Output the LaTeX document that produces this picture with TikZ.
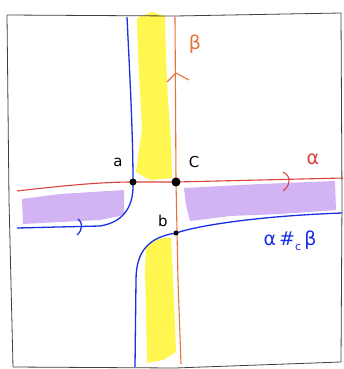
\documentclass[tikz,border=0pt]{standalone}
\usepackage{fontspec}
\setmainfont{DejaVu Sans}
\begin{document}
\begin{tikzpicture}[x=1pt,y=-1pt,
  dotnode/.style={circle,fill=black,inner sep=0pt,minimum size=#1},
  lbl/.style={font=\fontsize{15}{15}\selectfont},
  glbl/.style={font=\fontsize{19}{19}\selectfont},
  redc/.style={draw=alphared,line width=1.1pt},
  orc/.style={draw=betaorange,line width=1.1pt},
  bluc/.style={draw=curveblue,line width=1.3pt},
  ]
\definecolor{alphared}{HTML}{D8433F}
\definecolor{betaorange}{HTML}{E8733A}
\definecolor{curveblue}{HTML}{1A2FE6}
\definecolor{hlyellow}{HTML}{FFF64F}
\definecolor{hlpurple}{HTML}{D2B3F3}
\useasboundingbox (0,0) rectangle (343,369);
\fill[white] (0,0) rectangle (343,369);
% highlights
\fill[hlyellow] (137,18) -- (152,12) -- (165,16) -- (166,60) -- (168,100) -- (171,140) -- (172,178) -- (150,180) -- (136,172) -- (139,150) -- (142,130) -- (140,90) -- (138,55) -- cycle;
\fill[hlyellow] (146,248) .. controls (152,240) and (160,237) .. (171,238) -- (174,300) -- (176,352) -- (163,360) -- (147,363) -- (146,310) -- (145,270) -- cycle;
\fill[hlpurple] (22,199) -- (60,194) -- (124,190) -- (124,215) -- (100,220) -- (60,222) -- (23,224) -- cycle;
\fill[hlpurple] (184,188) -- (260,184) -- (335,181) -- (336,210) -- (280,214) -- (230,216) -- (190,221) -- (186,205) -- cycle;
% frame
\draw[black!75,line width=0.8pt] (7,15) -- (175,16) -- (341,13);
\draw[black!75,line width=0.8pt] (7,15) -- (9,200) -- (13,367);
\draw[black!75,line width=0.8pt] (13,367) -- (175,368) -- (341,362);
\draw[black!75,line width=0.8pt] (341,13) -- (342,200) -- (341,362);
% points
\coordinate (ptop) at (127,17);
\coordinate (bleft) at (17,228);
\coordinate (bbot) at (135,367);
\coordinate (bright) at (342,213);
\coordinate (rleft) at (17,191);
\coordinate (rright) at (343,178);
\coordinate (otop) at (175,17);
\coordinate (obot) at (181,364);
% beta
\draw[orc] (otop) -- (176,182) -- (178,280) -- (obot);
\draw[orc] (167,82) -- (176,73) -- (189,80);
% alpha
\draw[redc] (rleft) .. controls (60,186) and (100,182) .. (133,182) -- (176,182) -- (260,180) -- (rright);
\draw[redc] (283,172) .. controls (292,176) and (290,186) .. (283,191);
% blue curves
\draw[bluc] (ptop) .. controls (129,60) and (133,130) .. (133,182) .. controls (134,205) and (125,222) .. (100,226) -- (bleft);
\draw[bluc] (78,219) .. controls (83,222) and (83,230) .. (77,235);
\draw[bluc] (bbot) -- (136,280) .. controls (136,250) and (150,237) .. (176,233) .. controls (200,225) and (260,216) .. (bright);
% dots
\node[dotnode=7pt] (a) at (133,182) {};
\node[dotnode=9pt] (c) at (176,182) {};
\node[dotnode=5pt] (b) at (176,233) {};
% labels
\node[lbl] (la) at (118,162) {a};
\node[lbl] (lc) at (194,162) {C};
\node[lbl] (lb) at (163,221) {b};
\node[glbl,text=betaorange] (lbeta) at (195,44) {β};
\node[glbl,text=alphared] (lalpha) at (313,159) {α};
\node[glbl,text=curveblue,inner sep=0pt] (lsum) at (290,241) {α\,\#\raisebox{-0.25em}{\fontsize{11}{11}\selectfont c}\,β};
\end{tikzpicture}
\end{document}
